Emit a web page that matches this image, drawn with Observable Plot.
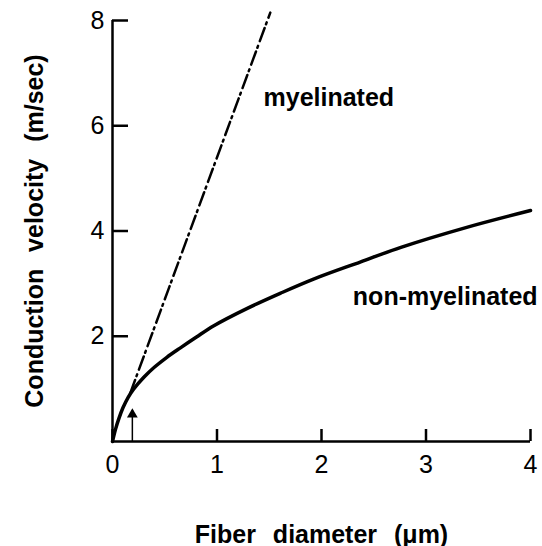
<!DOCTYPE html>
<html><head><meta charset="utf-8">
<script src="https://cdn.jsdelivr.net/npm/d3@7"></script>
<script src="https://cdn.jsdelivr.net/npm/@observablehq/plot@0.6"></script>
<style>body{margin:0;background:#fff}</style>
</head><body><div id="chart"></div>
<script>
// Non-myelinated fiber: diameter (µm) vs conduction velocity (m/sec)
const diameterNonMyel = [0, 0.03, 0.06, 0.1, 0.15, 0.2, 0.3, 0.4, 0.52, 0.65, 0.8, 0.97, 1.29, 1.61, 1.93, 2.37, 2.76, 3.39, 4.0];
const velocityNonMyel = [0, 0.24, 0.43, 0.64, 0.84, 0.99, 1.22, 1.41, 1.6, 1.78, 1.98, 2.2, 2.53, 2.82, 3.09, 3.41, 3.69, 4.07, 4.39];
// Myelinated fiber (straight line)
const diameterMyel = [0.17, 1.51];
const velocityMyel = [0.92, 8.15];
// Axis ticks
const xTicks = [0, 1, 2, 3, 4];
const yTicks = [2, 4, 6, 8];
// Annotations
const labelTexts = ["myelinated", "non-myelinated"];
const labelX = [1.445, 2.30];
const labelY = [6.52, 2.74];
const arrowX = [0.19];
const arrowTop = [0.59];
const xLabel = "Fiber diameter (\u03bcm)";
const yLabel = "Conduction velocity (m/sec)";

const nonMyel = diameterNonMyel.map((d, i) => ({d, v: velocityNonMyel[i]}));
const myel = diameterMyel.map((d, i) => ({d, v: velocityMyel[i]}));

const chart = Plot.plot({
  width: 542,
  height: 546,
  marginLeft: 112,
  marginRight: 12,
  marginTop: 20,
  marginBottom: 105,
  x: {domain: [0, 4]},
  y: {domain: [0, 8]},
  style: {fontFamily: "'Liberation Sans', Arial, sans-serif", fontSize: "25px", color: "black", background: "white", wordSpacing: "10px", overflow: "visible"},
  marks: [
    Plot.ruleY([0], {stroke: "black", strokeWidth: 2.5}),
    Plot.ruleX([0], {stroke: "black", strokeWidth: 2.5}),
    Plot.axisX(xTicks, {tickSize: -12, tickPadding: 26, strokeWidth: 2.5, label: null, fontSize: 25, tickFormat: d => String(d)}),
    Plot.axisY(yTicks, {tickSize: -16, tickPadding: 24, strokeWidth: 2.5, label: null, fontSize: 25, tickFormat: d => String(d)}),
    Plot.line(nonMyel, {x: "d", y: "v", curve: "catmull-rom", stroke: "black", strokeWidth: 3.5}),
    Plot.line(myel, {x: "d", y: "v", stroke: "black", strokeWidth: 2.5, strokeDasharray: "14,4,2,5"}),
    Plot.ruleX(arrowX, {x: d => d, y1: 0, y2: (d, i) => arrowTop[i], stroke: "black", strokeWidth: 1.5}),
    Plot.dot(arrowX, {x: d => d, y: (d, i) => arrowTop[i], symbol: "triangle", r: 4, fill: "black", stroke: "none", dy: 4}),
    Plot.text(labelTexts, {x: (d, i) => labelX[i], y: (d, i) => labelY[i], text: d => d, textAnchor: "start", fontWeight: "bold", fontSize: 25}),
    Plot.text([xLabel], {frameAnchor: "bottom", dy: 93, text: d => d, textAnchor: "middle", lineAnchor: "middle", fontWeight: "bold", fontSize: 25}),
    Plot.text([yLabel], {frameAnchor: "left", rotate: -90, dx: -78, text: d => d, textAnchor: "middle", lineAnchor: "middle", fontWeight: "bold", fontSize: 25})
  ]
});
document.getElementById("chart").appendChild(chart);
</script>
</body></html>
